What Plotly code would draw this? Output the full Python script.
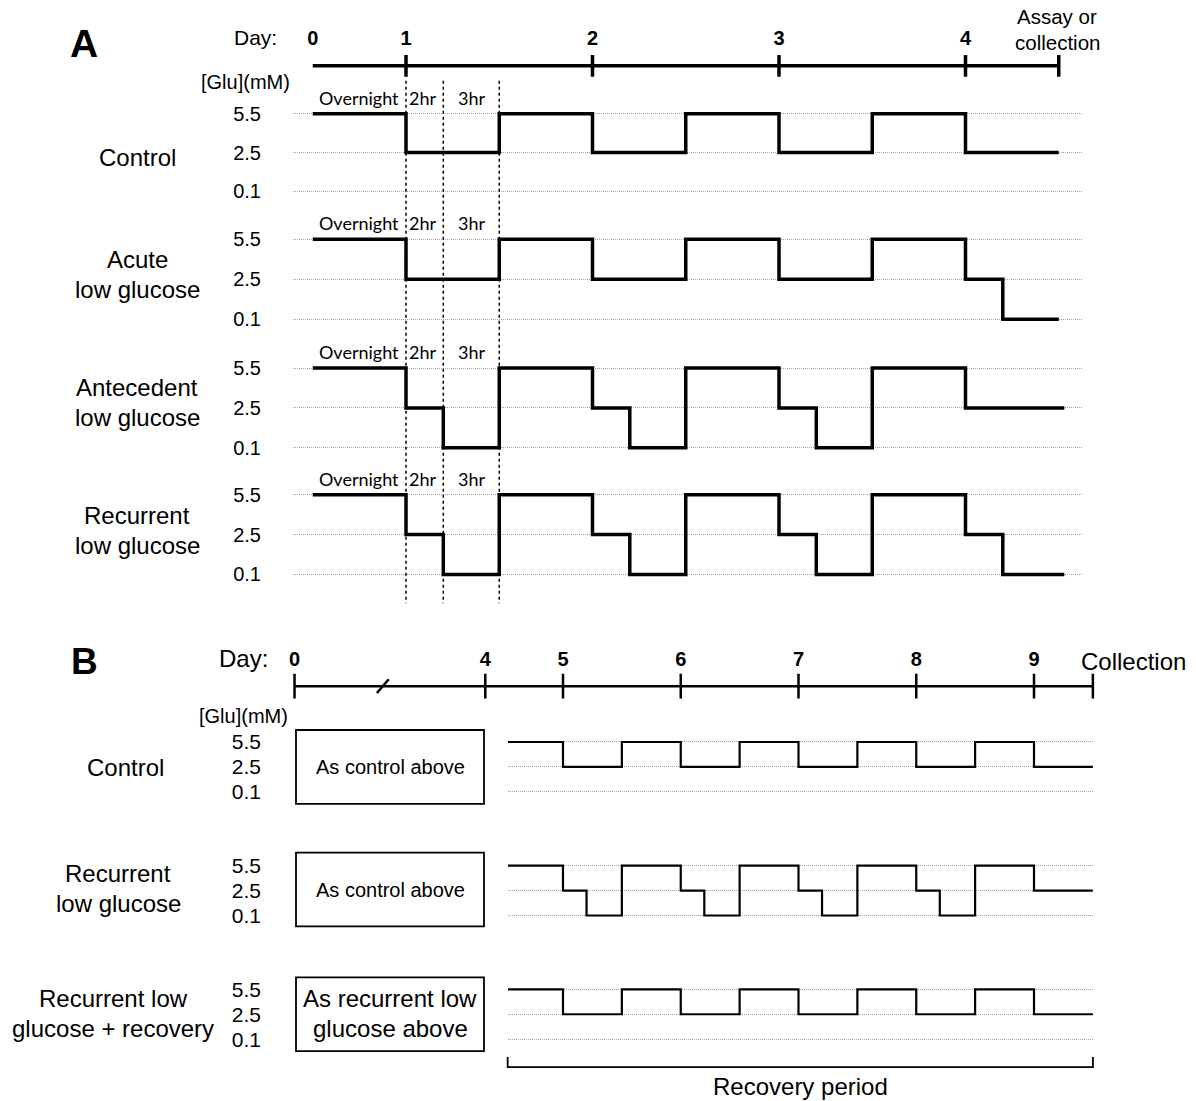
import plotly.graph_objects as go

W, H = 1196, 1101

# ---------------- data ----------------
LEVELS = ["0.1", "2.5", "5.5"]           # glucose levels (mM), bottom -> top

# Panel A (schematic day units)
a_day_ticks = [0.5, 1, 2, 3, 4]
a_day_labels = ["0", "1", "2", "3", "4"]
a_end = 4.5
a_guides = [1, 1.2, 1.5]
a_phase_names = ["Overnight", "2hr", "3hr"]
a_phase_pos = [0.75, 1.09, 1.35]

a_control_t = [0.5, 1, 1.5, 2, 2.5, 3, 3.5, 4, 4.5]
a_control_glu = [5.5, 2.5, 5.5, 2.5, 5.5, 2.5, 5.5, 2.5, 2.5]
a_acute_t = [0.5, 1, 1.5, 2, 2.5, 3, 3.5, 4, 4.2, 4.5]
a_acute_glu = [5.5, 2.5, 5.5, 2.5, 5.5, 2.5, 5.5, 2.5, 0.1, 0.1]
a_ante_t = [0.5, 1, 1.2, 1.5, 2, 2.2, 2.5, 3, 3.2, 3.5, 4, 4.53]
a_ante_glu = [5.5, 2.5, 0.1, 5.5, 2.5, 0.1, 5.5, 2.5, 0.1, 5.5, 2.5, 2.5]
a_recur_t = [0.5, 1, 1.2, 1.5, 2, 2.2, 2.5, 3, 3.2, 3.5, 4, 4.2, 4.53]
a_recur_glu = [5.5, 2.5, 0.1, 5.5, 2.5, 0.1, 5.5, 2.5, 0.1, 5.5, 2.5, 0.1, 0.1]
a_row_names = [["Control"], ["Acute", "low glucose"],
               ["Antecedent", "low glucose"], ["Recurrent", "low glucose"]]

# Panel B
b_day_ticks = [2.72, 4.34, 5, 6, 7, 8, 9, 9.5]
b_day_labels = ["0", "4", "5", "6", "7", "8", "9", ""]
b_break_day = 3.47
b_control_t = [4.53, 5, 5.5, 6, 6.5, 7, 7.5, 8, 8.5, 9, 9.5]
b_control_glu = [5.5, 2.5, 5.5, 2.5, 5.5, 2.5, 5.5, 2.5, 5.5, 2.5, 2.5]
b_recur_t = [4.53, 5, 5.2, 5.5, 6, 6.2, 6.5, 7, 7.2, 7.5, 8, 8.2, 8.5, 9, 9.5]
b_recur_glu = [5.5, 2.5, 0.1, 5.5, 2.5, 0.1, 5.5, 2.5, 0.1, 5.5, 2.5, 0.1, 5.5, 2.5, 2.5]
b_recov_t = [4.53, 5, 5.5, 6, 6.5, 7, 7.5, 8, 8.5, 9, 9.5]
b_recov_glu = [5.5, 2.5, 5.5, 2.5, 5.5, 2.5, 5.5, 2.5, 5.5, 2.5, 2.5]
b_recovery_span = [4.53, 9.5]
b_row_names = [["Control"], ["Recurrent", "low glucose"],
               ["Recurrent low", "glucose + recovery"]]
b_box_texts = [["As control above"], ["As control above"],
               ["As recurrent low", "glucose above"]]

# ---------------- layout helpers ----------------
FONT = "Liberation Sans, Arial, sans-serif"
CAL = "Lato, Noto Sans, sans-serif"


def xd(px):
    return px / W


def yd(py):
    return 1 - py / H


# panel A: pixel = A0 + (t-1)*AS
A0, AS = 406, 186.5
# panel B: pixel = B0 + (t-5)*BS
B0, BS = 563, 117.75


def a_t(px):
    return 1 + (px - A0) / AS


def b_t(px):
    return 5 + (px - B0) / BS


fig = go.Figure()
layout = dict(width=W, height=H, margin=dict(l=0, r=0, t=0, b=0), autosize=False,
              paper_bgcolor="white", plot_bgcolor="rgba(0,0,0,0)", showlegend=False,
              hovermode=False)
annotations = []
shapes = []


def txt(s, px, py, size=24, bold=False, family=FONT, xanchor="center"):
    annotations.append(dict(text=s, x=xd(px), y=yd(py), xref="paper", yref="paper",
                            showarrow=False, xanchor=xanchor, yanchor="middle",
                            font=dict(family=family, size=size, color="black",
                                      weight="bold" if bold else "normal")))


ax_i = [0]


def new_axes(xdom_px, ydom_px, xrange, yaxis_extra=None, xaxis_extra=None):
    ax_i[0] += 1
    i = ax_i[0]
    sfx = "" if i == 1 else str(i)
    xa = dict(domain=[xd(xdom_px[0]), xd(xdom_px[1])], range=xrange, anchor="y" + sfx,
              showgrid=False, zeroline=False, showline=False, showticklabels=False, ticks="")
    ya = dict(domain=[yd(ydom_px[1]), yd(ydom_px[0])], anchor="x" + sfx,
              showgrid=False, zeroline=False, showline=False, showticklabels=False, ticks="")
    if xaxis_extra:
        xa.update(xaxis_extra)
    if yaxis_extra:
        ya.update(yaxis_extra)
    layout["xaxis" + sfx] = xa
    layout["yaxis" + sfx] = ya
    return "x" + sfx, "y" + sfx


def seg_trace(xs, ys, xr, yr, width):
    fig.add_trace(go.Scatter(x=xs, y=ys, xaxis=xr, yaxis=yr, mode="lines",
                             line=dict(color="black", width=width), hoverinfo="skip"))


def timeline(ticks, start, end, xr, yr, width):
    xs = [start, end, None]
    ys = [0, 0, None]
    for t in ticks:
        xs += [t, t, None]
        ys += [-1, 1, None]
    seg_trace(xs, ys, xr, yr, width)


def row_axes(xdom_px, top_py, unit_px, xrange, standoff, tick_size):
    pad = 0.4
    ydom = (top_py - pad * unit_px, top_py + (2 + pad) * unit_px)
    return new_axes(xdom_px, ydom, xrange,
                    yaxis_extra=dict(type="category", categoryorder="array", categoryarray=LEVELS,
                                     tickmode="array", tickvals=LEVELS, ticktext=LEVELS,
                                     range=[-pad, 2 + pad], showgrid=True, gridcolor="#a0a0a0",
                                     griddash="1px,1px", gridwidth=1, showticklabels=True,
                                     ticklabelstandoff=standoff, ticklabeloverflow="allow",
                                     tickfont=dict(family=FONT, size=tick_size, color="black")))


def step(xr, yr, ts, glu, width):
    fig.add_trace(go.Scatter(x=ts, y=[f"{g}" for g in glu], xaxis=xr, yaxis=yr, mode="lines",
                             line=dict(color="black", width=width, shape="hv"), hoverinfo="skip"))


# ---------------- Panel A ----------------
txt("A", 84, 42, size=39, bold=True)
txt("Day:", 255, 36, size=21)
txt("Assay or", 1057, 15, size=20.5)
txt("collection", 1057, 41, size=20.5)
txt("[Glu](mM)", 245, 80, size=20)

xr, yr = new_axes((0, W), (51, 77), [a_t(0), a_t(W)],
                  yaxis_extra=dict(range=[-1.2, 1.2]),
                  xaxis_extra=dict(showticklabels=True, side="top", tickvals=a_day_ticks,
                                   ticktext=a_day_labels, ticklabelstandoff=3,
                                   tickfont=dict(family=FONT, size=20, color="black", weight="bold")))
timeline(a_day_ticks[1:] + [a_end], a_day_ticks[0], a_end, xr, yr, 3.5)

a_series = [(a_control_t, a_control_glu), (a_acute_t, a_acute_glu),
            (a_ante_t, a_ante_glu), (a_recur_t, a_recur_glu)]
a_tops = [112, 238, 367, 494]
a_units = [39, 40, 40, 40]
a_label_y = [[156], [258, 288], [387, 417], [515, 545]]
first_ax = None
for (ts, glu), top, unit, names, ly in zip(a_series, a_tops, a_units, a_row_names, a_label_y):
    xr, yr = row_axes((293, 1082), top, unit, [a_t(293), a_t(1082)], 31, 20)
    if first_ax is None:
        first_ax = xr
    step(xr, yr, ts, glu, 3.5)
    for n, y in zip(names, ly):
        txt(n, 137, y, size=24)
    for name, pos in zip(a_phase_names, a_phase_pos):
        txt(name, A0 + (pos - 1) * AS, top - 16, size=18, family=CAL)

for g in a_guides:
    shapes.append(dict(type="line", xref=first_ax, yref="paper", x0=g, x1=g,
                       y0=yd(79), y1=yd(603), line=dict(color="black", width=1.5, dash="dot")))

# ---------------- Panel B ----------------
txt("B", 84, 661, size=37, bold=True)
txt("Day:", 243, 658, size=24)
txt("Collection", 1133, 661, size=24)
txt("[Glu](mM)", 243, 716, size=20)

xr, yr = new_axes((0, W), (671, 701), [b_t(0), b_t(W)],
                  yaxis_extra=dict(range=[-1.2, 1.2]),
                  xaxis_extra=dict(showticklabels=True, side="top", tickvals=b_day_ticks,
                                   ticktext=b_day_labels,
                                   tickfont=dict(family=FONT, size=20, color="black", weight="bold")))
timeline(b_day_ticks, b_day_ticks[0], b_day_ticks[-1], xr, yr, 2.5)
seg_trace([b_break_day - 0.05, b_break_day + 0.05], [-0.55, 0.55], xr, yr, 2.5)

b_series = [(b_control_t, b_control_glu), (b_recur_t, b_recur_glu), (b_recov_t, b_recov_glu)]
b_tops = [742, 866, 990]
b_label_x = [125, 118, 113]
b_label_y = [[768], [874, 904], [999, 1029]]
b_box_y = [(730, 804), (853, 927), (978, 1052)]
b_box_size = [20, 20, 24]
b_box_ty = [[767], [890], [999, 1029]]
for (ts, glu), top, names, lx, ly, (by0, by1), bsz, bty, btxt in zip(
        b_series, b_tops, b_row_names, b_label_x, b_label_y, b_box_y, b_box_size, b_box_ty,
        b_box_texts):
    xr, yr = row_axes((508, 1094), top, 25, [b_t(508), b_t(1094)], 246, 21)
    step(xr, yr, ts, glu, 2.2)
    for n, y in zip(names, ly):
        txt(n, lx, y, size=24)
    shapes.append(dict(type="rect", xref="paper", yref="paper", x0=xd(296), x1=xd(484),
                       y0=yd(by1), y1=yd(by0), line=dict(color="black", width=1.8)))
    for s, y in zip(btxt, bty):
        txt(s, 390, y, size=bsz)

# recovery bracket
xr, yr = new_axes((0, W), (1056, 1070), [b_t(0), b_t(W)],
                  yaxis_extra=dict(range=[-0.2, 1.2]))
seg_trace([b_recovery_span[0], b_recovery_span[0], b_recovery_span[1], b_recovery_span[1]],
          [1, 0, 0, 1], xr, yr, 1.8)
txt("Recovery period", 800, 1087, size=24)

layout["annotations"] = annotations
layout["shapes"] = shapes
fig.update_layout(**layout)
fig.write_html("out.html")
